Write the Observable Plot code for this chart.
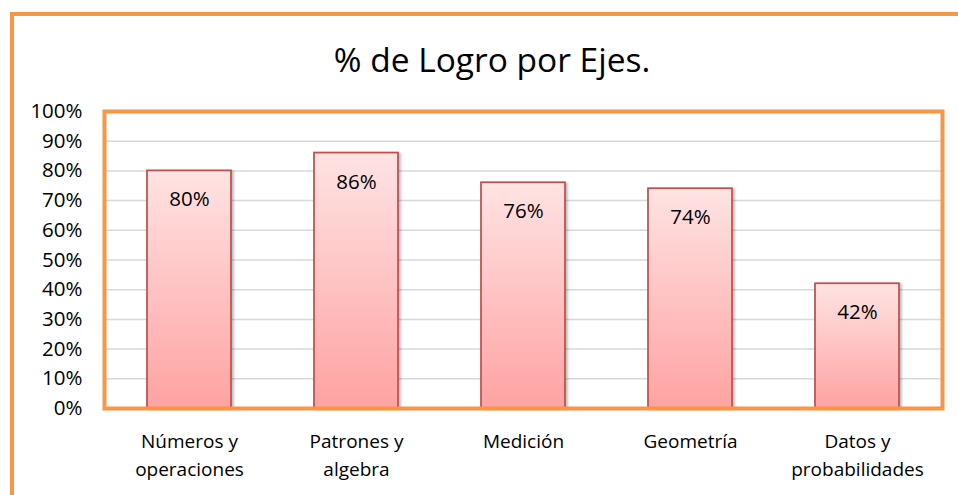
<!DOCTYPE html>
<html>
<head>
<meta charset="utf-8">
<script src="https://cdn.jsdelivr.net/npm/d3@7"></script>
<script src="https://cdn.jsdelivr.net/npm/@observablehq/plot@0.6"></script>
<style>
  html, body { margin: 0; padding: 0; background: #fff; overflow: hidden; }
  #wrap { position: relative; width: 958px; height: 495px; font-family: "Open Sans", sans-serif; }
  #outer { position: absolute; left: 10px; top: 12px; width: 1000px; height: 600px;
           border-left: 4px solid #F79646; border-top: 4px solid #F79646; box-sizing: border-box; }
  #title { position: absolute; left: 0; width: 984px; top: 37px; text-align: center;
           font-size: 33.5px; color: #000; line-height: 44px; }
  #chart { position: absolute; left: 0; top: 0; }
</style>
</head>
<body>
<div id="wrap">
  <div id="outer"></div>
  <div id="title">% de Logro por Ejes.</div>
  <div id="chart"></div>
</div>
<script>
const categories = ["Números y\noperaciones", "Patrones y\nalgebra", "Medición", "Geometría", "Datos y\nprobabilidades"];
const values = [80, 86, 76, 74, 42];
const yTicks = [0, 10, 20, 30, 40, 50, 60, 70, 80, 90, 100];

const data = categories.map((c, i) => ({cat: c, v: values[i]}));

const defs = () => {
  const d = d3.create("svg:defs");
  const g = d.append("linearGradient").attr("id", "barGrad")
    .attr("x1", 0).attr("y1", 0).attr("x2", 0).attr("y2", 1);
  g.append("stop").attr("offset", "0%").attr("stop-color", "#FFE3E3");
  g.append("stop").attr("offset", "100%").attr("stop-color", "#FFA2A2");
  const f = d.append("filter").attr("id", "shadow").attr("x", "-10%").attr("y", "-10%").attr("width", "130%").attr("height", "130%");
  f.append("feDropShadow").attr("dx", 2).attr("dy", 1).attr("stdDeviation", 1.2).attr("flood-color", "#000").attr("flood-opacity", 0.25);
  return d.node();
};

const chart = Plot.plot({
  width: 958,
  height: 495,
  marginLeft: 104,
  marginRight: 16,
  marginTop: 111,
  marginBottom: 87,
  style: {fontFamily: "'Open Sans', sans-serif", color: "#000", background: "transparent"},
  x: {domain: categories, paddingInner: 0.5, paddingOuter: 0.25, label: null, axis: null},
  y: {domain: [0, 100], label: null, axis: null},
  marks: [
    defs,
    Plot.gridY(yTicks.filter(t => t > 0 && t < 100), {stroke: "#D9D9D9", strokeWidth: 1.5, strokeOpacity: 1}),
    Plot.barY(data, {x: "cat", y: "v", fill: "url(#barGrad)", stroke: "#C0504D", strokeWidth: 1.75, filter: null, render: (i, s, v, d, c, next) => { const g = next(i, s, v, d, c); g.setAttribute("filter", "url(#shadow)"); return g; }}),
    Plot.text(data, {x: "cat", y: "v", text: d => d.v + "%", dy: 29, fontSize: 20.5, fill: "#000"}),
    Plot.frame({stroke: "#F79646", strokeWidth: 4}),
    Plot.ruleY([0], {stroke: "#F79646", strokeWidth: 2.5}),
    Plot.axisY({ticks: yTicks, tickFormat: d => d + "%", tickSize: 0, tickPadding: 22, fontSize: 20.5, label: null, fill: "#000"}),
    Plot.axisX({tickSize: 0, tickPadding: 20, fontSize: 19, lineHeight: 1.45, label: null, fill: "#000", textAnchor: "middle", lineAnchor: "top"})
  ]
});
document.getElementById("chart").appendChild(chart);
</script>
</body>
</html>
